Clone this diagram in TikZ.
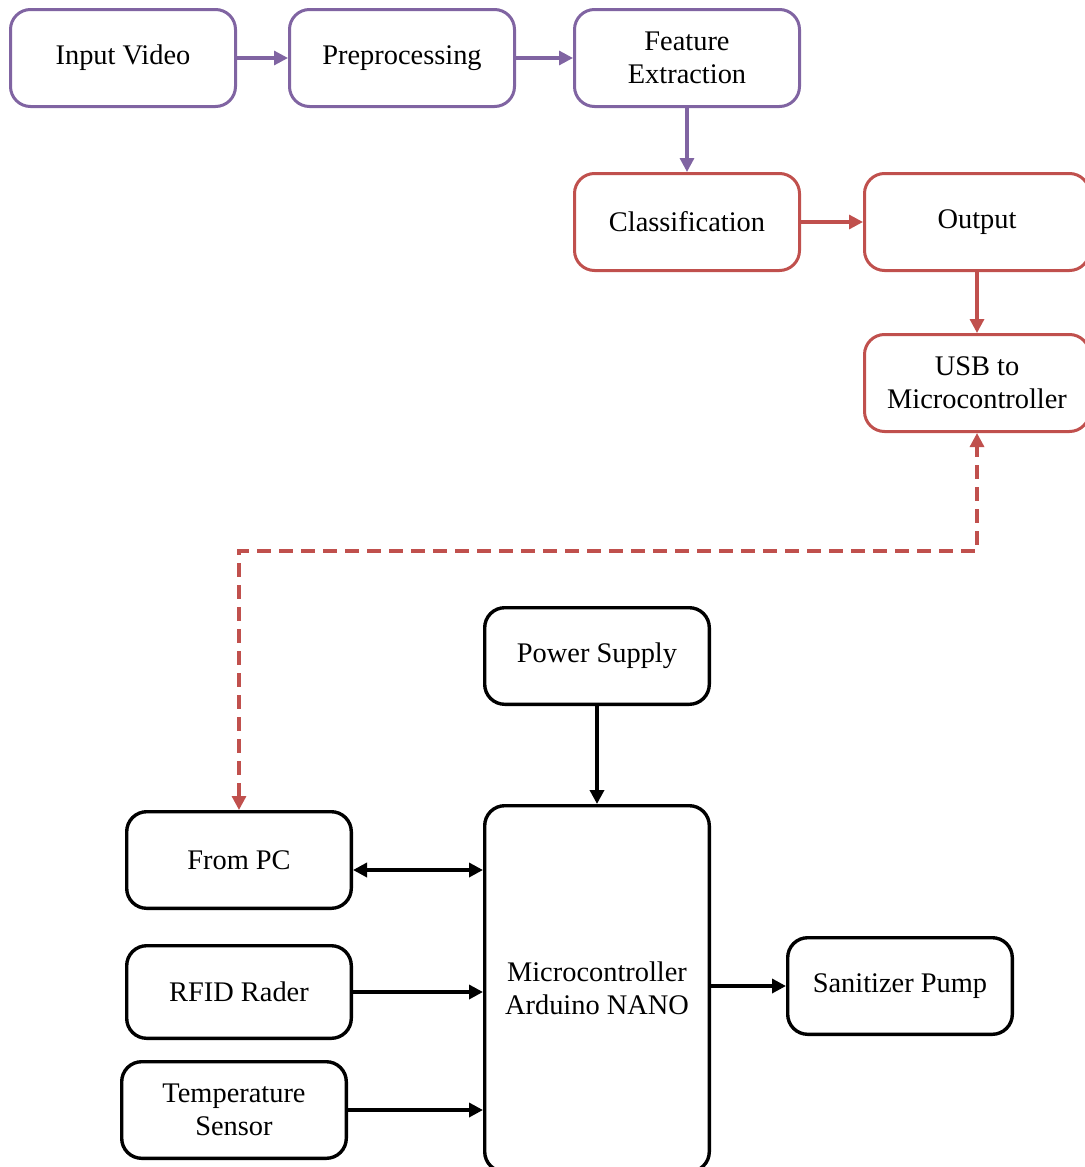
\documentclass[tikz,border=0pt]{standalone}
\usepackage{fontspec}
\setmainfont{Liberation Serif}
\usetikzlibrary{positioning,arrows.meta}

\definecolor{vpurple}{HTML}{8064A2}
\definecolor{vred}{HTML}{C0504D}

\begin{document}
\begin{tikzpicture}[x=0.5pt, y=-0.5pt,
  box/.style={rectangle, rounded corners=10pt, line width=1.5pt,
              minimum width=112.5pt, minimum height=48.5pt, inner sep=2pt,
              font=\fontsize{14.2}{16.5}\selectfont, align=center, fill=white},
  pbox/.style={box, draw=vpurple},
  rbox/.style={box, draw=vred},
  kbox/.style={box, draw=black, line width=1.7pt,
               minimum width=112.3pt, minimum height=48.3pt},
  arr/.style={-{Triangle[length=7pt,width=7pt]}, line width=1.6pt},
  parr/.style={arr, draw=vpurple},
  rarr/.style={arr, draw=vred},
  karr/.style={arr, draw=black, line width=1.7pt}]
  \useasboundingbox (0,0) rectangle (1084,1167);
  % video processing chain
  \node[pbox] at (123,58) (IV) {Input Video};
  \node[pbox, right=25.5pt of IV] (PP) {Preprocessing};
  \node[pbox, right=28.5pt of PP] (FE) {Feature\\Extraction};
  \node[rbox, below=32pt of FE] (CL) {Classification};
  \node[rbox, right=31pt of CL] (OU) {Output};
  \node[rbox, below=30.5pt of OU] (USB) {USB to\\Microcontroller};
  \draw[parr] (IV) -- (PP);
  \draw[parr] (PP) -- (FE);
  \draw[parr] (FE) -- (CL);
  \draw[rarr] (CL) -- (OU);
  \draw[rarr] (OU) -- (USB);
  % hardware side
  \node[kbox] at (597,656) (PS) {Power Supply};
  \node[kbox, below=49pt of PS, minimum height=183pt] (MC) {Microcontroller\\Arduino NANO};
  \node[kbox] at (239,860) (PC) {From PC};
  \node[kbox, minimum height=46.3pt] at (239,992) (RF) {RFID Rader};
  \node[kbox] at (234,1110) (TS) {Temperature\\Sensor};
  \node[kbox] at (900,986) (SP) {Sanitizer Pump};
  \draw[karr] (PS) -- (MC);
  \draw[karr, {Triangle[length=7pt,width=7pt]}-{Triangle[length=7pt,width=7pt]}]
    ([yshift=-5pt]PC.east) -- ([yshift=-5pt]PC.east -| MC.west);
  \draw[karr] (RF.east) -- (RF.east -| MC.west);
  \draw[karr] (TS.east) -- (TS.east -| MC.west);
  \draw[karr] (MC.east |- SP.west) -- (SP.west);
  % link between PC and USB
  \coordinate (bend) at (600,551);
  \draw[rarr, dash pattern=on 7pt off 4pt,
        {Triangle[length=7pt,width=7pt]}-{Triangle[length=7pt,width=7pt]}]
    (PC.north) |- (bend) -| (USB.south);
\end{tikzpicture}
\end{document}
